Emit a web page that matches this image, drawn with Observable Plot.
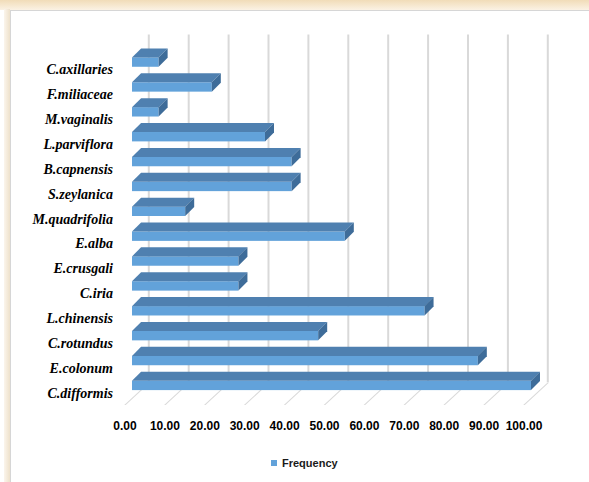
<!DOCTYPE html>
<html>
<head>
<meta charset="utf-8">
<script src="https://cdn.jsdelivr.net/npm/d3@7"></script>
<script src="https://cdn.jsdelivr.net/npm/@observablehq/plot@0.6"></script>
<style>
  body { margin: 0; background: #fff; }
  #wrap { position: relative; width: 589px; height: 482px; overflow: hidden; background: #fff; }
  #topband { position: absolute; left: 0; top: 0; width: 589px; height: 10px; background: linear-gradient(#f1dcb8, #fbf2e4); }
  #leftband { position: absolute; left: 4px; top: 9px; width: 6px; height: 473px; background: linear-gradient(90deg, #fbf5ec, #eee1cb); }
  #panel { position: absolute; left: 10px; top: 10px; width: 579px; height: 472px; border-left: 1px solid #d6d6d6; border-top: 1px solid #d6d6d6; background: #fff; }
  #chart { position: absolute; left: 0; top: 0; }
  #legend { position: absolute; left: 0; top: 458px; width: 589px; height: 14px; font: bold 11px "Liberation Sans", Arial, sans-serif; color: #1a1a1a; line-height: 11px; }
  #legend .sw { position: absolute; left: 271px; top: 2px; width: 6px; height: 6px; background: #62a2da; }
  #legend .lb { position: absolute; left: 282px; top: 0; white-space: nowrap; }
  .face-top rect { transform-box: fill-box; transform-origin: 0 100%; transform: skewX(-45deg); }
  .face-side rect { transform-box: fill-box; transform-origin: 0 0; transform: skewY(-45deg); }
  .floor line { transform-box: fill-box; transform-origin: 0 100%; transform: skewX(-47.25deg); }
</style>
</head>
<body>
<div id="wrap">
  <div id="topband"></div>
  <div id="leftband"></div>
  <div id="panel"></div>
  <div id="chart"></div>
  <div id="legend"><span class="sw"></span><span class="lb"></span></div>
</div>
<script>
// ---- data ----
const categories = ["C.axillaries", "F.miliaceae", "M.vaginalis", "L.parviflora", "B.capnensis", "S.zeylanica", "M.quadrifolia", "E.alba", "E.crusgali", "C.iria", "L.chinensis", "C.rotundus", "E.colonum", "C.difformis"];
const frequency = [6.67, 20, 6.67, 33.33, 40, 40, 13.33, 53.33, 26.67, 26.67, 73.33, 46.67, 86.67, 100];
const xTicks = [0, 10, 20, 30, 40, 50, 60, 70, 80, 90, 100];
const seriesName = "Frequency";

const table = categories.map((c, i) => ({category: c, value: frequency[i]}));

const frontColor = "#62a2da";
const topColor = "#4f80b0";
const sideColor = "#3e6c99";

const svg = Plot.plot({
  width: 589,
  height: 440,
  marginTop: 56.9,
  marginBottom: 34.9,
  marginLeft: 124.5,
  marginRight: 65.5,
  style: {background: "transparent", overflow: "visible"},
  x: {domain: [0, 100], label: null},
  y: {domain: categories, padding: 0, round: false, label: null},
  marks: [
    // floor diagonals
    Plot.ruleX(xTicks, {x: d => d, stroke: "#d9d9d9", strokeWidth: 1.5, insetTop: 326.2}),
    // back wall gridlines
    Plot.ruleX(xTicks, {x: d => d, stroke: "#d9d9d9", strokeWidth: 2, dx: 23.8, dy: -22.5}),
    // front faces
    Plot.barX(table, {y: "category", x1: 0, x2: "value", fill: frontColor, insetTop: 0.5, insetBottom: 15, dx: 7.5}),
    // top faces
    Plot.barX(table, {y: "category", x1: 0, x2: "value", fill: topColor, insetTop: 0.5, insetBottom: 15.3, dx: 7.5, dy: -9}),
    // side faces
    Plot.barX(table, {y: "category", x1: "value", x2: "value", fill: sideColor, insetTop: 0.5, insetBottom: 15, insetRight: -9, dx: 7.5}),
    Plot.axisY({tickSize: 0, tickPadding: 12, fontSize: 14, fontWeight: "bold", fontStyle: "italic", fontFamily: "'Liberation Serif', 'Times New Roman', serif", fill: "#000", label: null}),
    Plot.axisX(xTicks, {tickSize: 0, tickPadding: 16, tickFormat: d => d.toFixed(2), fontSize: 12, fontWeight: "bold", fontFamily: "'Liberation Sans', Arial, sans-serif", fill: "#000", label: null})
  ]
});

const bars = svg.querySelectorAll('g[aria-label="bar"]');
if (bars[1]) bars[1].classList.add("face-top");
if (bars[2]) bars[2].classList.add("face-side");
const rules = svg.querySelectorAll('g[aria-label="rule"]');
if (rules[0]) rules[0].classList.add("floor");

document.getElementById("chart").appendChild(svg);
document.querySelector("#legend .lb").textContent = seriesName;
</script>
</body>
</html>
